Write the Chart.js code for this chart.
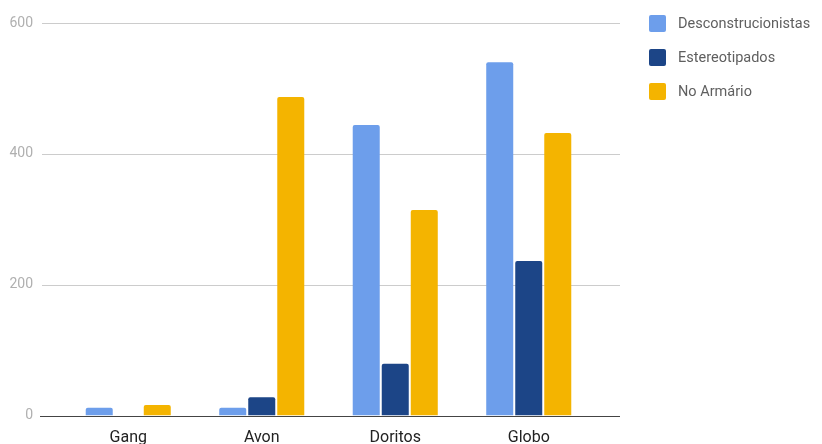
<!DOCTYPE html>
<html>
<head>
<meta charset="utf-8">
<script src="https://cdn.jsdelivr.net/npm/chart.js@4"></script>
<style>
  body { margin: 0; background: #fff; }
  #wrap { width: 822px; height: 444px; }
</style>
</head>
<body>
<div id="wrap"><canvas id="myChart" width="822" height="444"></canvas></div>
<script>
// data
var categories = ['Gang', 'Avon', 'Doritos', 'Globo'];
var desconstrucionistas = [12, 12, 444, 540];
var estereotipados = [0, 28, 79, 236];
var noArmario = [16, 487, 314, 432];
var yTicks = [0, 200, 400, 600];

var colors = ['#6d9eeb', '#1c4587', '#f4b400'];
var names = ['Desconstrucionistas', 'Estereotipados', 'No Armário'];

Chart.defaults.font.family = 'Roboto, sans-serif';

//grid lines stick out past the bars, so draw them by hand
var gridPlugin = {
    id: 'gridLines',
    beforeDatasetsDraw: function(chart){
        var c = chart.ctx, y = chart.scales.y;
        c.save();
        yTicks.forEach(function(v){
            var py = Math.round(y.getPixelForValue(v)) + 0.5;
            c.beginPath();
            c.strokeStyle = v === 0 ? '#444' : '#cccccc';
            c.lineWidth = 1;
            c.moveTo(v === 0 ? 40 : 42, py);
            c.lineTo(620, py);
            c.stroke();
        });
        c.restore();
    }
};

var legendPlugin = {
    id: 'sideLegend',
    afterDraw: function(chart){
        var c = chart.ctx;
        c.save();
        chart.data.datasets.forEach(function(ds, i){
            var cy = 23.5 + i * 34;
            c.fillStyle = ds.backgroundColor;
            c.beginPath();
            c.roundRect(649, cy - 8.5, 17, 17, 2);
            c.fill();
            c.fillStyle = '#5f5f5f';
            c.font = '14.5px Roboto';
            c.textBaseline = 'middle';
            c.fillText(ds.label, 678, cy + 1);
        });
        c.restore();
    }
};

var series = [desconstrucionistas, estereotipados, noArmario];
var data = {
    labels: categories,
    datasets: series.map(function(vals, i){
        return {
            label: names[i],
            data: vals,
            backgroundColor: colors[i],
            borderRadius: 2,
            borderSkipped: 'bottom',
            categoryPercentage: 0.652,
            barPercentage: 0.931
        };
    })
};

var ctx = document.getElementById('myChart').getContext('2d');
var chart = new Chart(ctx, {
    type: 'bar',
    data: data,
    plugins: [gridPlugin, legendPlugin],
    options: {
        responsive: false,
        animation: false,
        layout: { padding: { top: 23, right: 226.5, bottom: 0, left: 0 } },
        plugins: { legend: { display: false }, tooltip: { enabled: false } },
        scales: {
            x: {
                afterFit: function(scale){ scale.height = 28.5; },
                grid: { display: false, drawTicks: false },
                border: { display: false },
                ticks: { color: '#222', font: { size: 16 }, padding: 13 }
            },
            y: {
                min: 0,
                max: 600,
                //label padding would otherwise push the plot in from top and bottom
                afterFit: function(scale){
                    scale.width = 61.5;
                    scale.paddingTop = 0;
                    scale.paddingBottom = 0;
                },
                afterBuildTicks: function(scale){
                    scale.ticks = yTicks.map(function(v){ return { value: v }; });
                },
                grid: { display: false, drawTicks: false },
                border: { display: false },
                ticks: { color: '#b0b0b0', font: { size: 14 }, padding: 28.5 }
            }
        }
    }
});
</script>
</body>
</html>
